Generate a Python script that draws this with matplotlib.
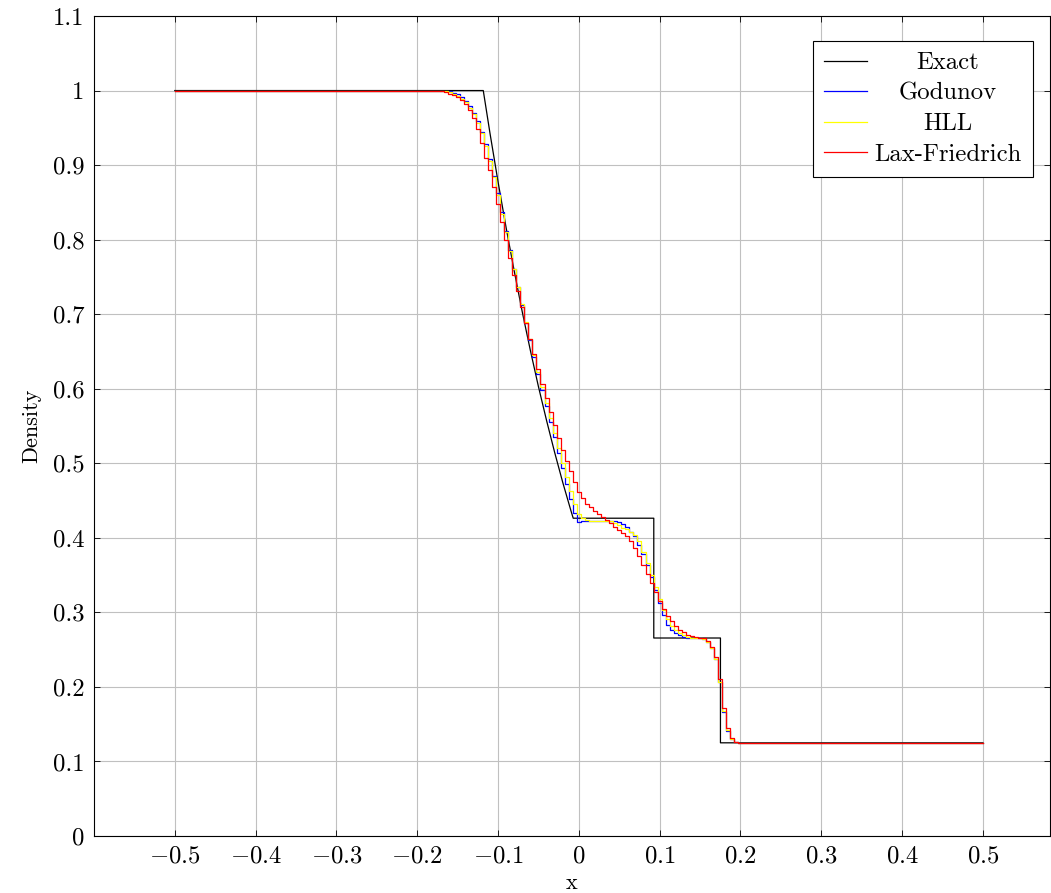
import numpy as np
import matplotlib
matplotlib.use('Agg')
import matplotlib.pyplot as plt

plt.rcParams['font.family'] = 'serif'
plt.rcParams['font.serif'] = ['cmr10', 'DejaVu Serif']
plt.rcParams['mathtext.fontset'] = 'cm'
plt.rcParams['axes.formatter.use_mathtext'] = True

# exact solution
exact_x = [-0.5, -0.1183, -0.11, -0.10, -0.09, -0.08, -0.07, -0.06, -0.05,
           -0.04, -0.03, -0.02, -0.01, -0.007, 0.0927, 0.0927, 0.1752, 0.1752, 0.5]
exact_rho = [1.0, 1.0, 0.9428, 0.8775, 0.8158, 0.7579, 0.7028, 0.6513, 0.6027,
             0.5575, 0.5147, 0.4745, 0.4370, 0.4263, 0.4263, 0.2656, 0.2656, 0.125, 0.125]

# numerical solutions, sampled every 0.005 in x
x_cells = np.round(np.arange(-0.5, 0.5001, 0.005), 3)
n_left = 64    # cells at rho = 1 (x <= -0.185)
n_right = 60   # cells at rho = 0.125 (x >= 0.205)

# values for x = -0.180 ... 0.200
godunov_mid = [1.0, 1.0, 1.0, 0.9995, 0.999, 0.997, 0.995, 0.991, 0.986, 0.979,
               0.970, 0.959, 0.945, 0.928, 0.908, 0.886, 0.862, 0.837, 0.811, 0.786,
               0.761, 0.736, 0.712, 0.688, 0.665, 0.642, 0.620, 0.598, 0.577, 0.556,
               0.535, 0.514, 0.493, 0.472, 0.452, 0.433, 0.421, 0.422, 0.423, 0.423,
               0.423, 0.423, 0.423, 0.423, 0.423, 0.422, 0.421, 0.418, 0.414, 0.408,
               0.402, 0.391, 0.378, 0.363, 0.347, 0.330, 0.313, 0.296, 0.283, 0.276,
               0.272, 0.269, 0.267, 0.266, 0.2655, 0.265, 0.265, 0.264, 0.260, 0.252,
               0.238, 0.206, 0.167, 0.141, 0.130, 0.126, 0.125]
hll_mid = [1.0, 1.0, 0.9995, 0.999, 0.998, 0.996, 0.993, 0.989, 0.984, 0.977,
           0.968, 0.957, 0.943, 0.926, 0.906, 0.884, 0.860, 0.835, 0.810, 0.785,
           0.761, 0.737, 0.713, 0.690, 0.667, 0.645, 0.623, 0.602, 0.581, 0.561,
           0.541, 0.521, 0.501, 0.482, 0.463, 0.446, 0.432, 0.426, 0.424, 0.423,
           0.423, 0.423, 0.423, 0.423, 0.422, 0.420, 0.417, 0.413, 0.412, 0.408,
           0.404, 0.396, 0.381, 0.366, 0.350, 0.334, 0.318, 0.303, 0.291, 0.282,
           0.276, 0.272, 0.269, 0.267, 0.266, 0.2655, 0.265, 0.264, 0.260, 0.252,
           0.238, 0.207, 0.168, 0.142, 0.130, 0.126, 0.125]
lf_mid = [1.0, 0.9995, 0.999, 0.998, 0.996, 0.994, 0.991, 0.987, 0.982, 0.974,
          0.963, 0.948, 0.930, 0.909, 0.893, 0.871, 0.848, 0.823, 0.799, 0.776,
          0.753, 0.731, 0.709, 0.688, 0.667, 0.647, 0.627, 0.607, 0.588, 0.569,
          0.551, 0.534, 0.518, 0.503, 0.489, 0.475, 0.462, 0.453, 0.446, 0.441,
          0.436, 0.432, 0.428, 0.424, 0.420, 0.415, 0.410, 0.406, 0.402, 0.396,
          0.386, 0.375, 0.363, 0.351, 0.339, 0.327, 0.315, 0.304, 0.295, 0.288,
          0.282, 0.277, 0.273, 0.270, 0.268, 0.267, 0.266, 0.265, 0.261, 0.253,
          0.240, 0.210, 0.172, 0.145, 0.131, 0.126, 0.125]

godunov = [1.0] * n_left + godunov_mid + [0.125] * n_right
hll = [1.0] * n_left + hll_mid + [0.125] * n_right
lax_friedrich = [1.0] * n_left + lf_mid + [0.125] * n_right

x_ticks = [-0.5, -0.4, -0.3, -0.2, -0.1, 0, 0.1, 0.2, 0.3, 0.4, 0.5]
y_ticks = [0, 0.1, 0.2, 0.3, 0.4, 0.5, 0.6, 0.7, 0.8, 0.9, 1.0, 1.1]

fig = plt.figure(figsize=(10.51, 8.93), dpi=100)
ax = fig.add_axes([94 / 1051, 57 / 893, 956 / 1051, 820 / 893])

ax.plot(exact_x, exact_rho, color='black', lw=0.9, label='Exact')
ax.step(x_cells, godunov, where='mid', color='blue', lw=0.9, label='Godunov')
ax.step(x_cells, hll, where='mid', color='yellow', lw=0.9, label='HLL')
ax.step(x_cells, lax_friedrich, where='mid', color='red', lw=0.9, label='Lax-Friedrich')

ax.set_xlim(-0.6, 0.583)
ax.set_ylim(0, 1.1)
ax.set_xticks(x_ticks)
ax.set_xticklabels(['$%g$' % v if v >= 0 else '$-%g$' % -v for v in x_ticks])
ax.set_yticks(y_ticks)
ax.set_yticklabels(['%g' % v for v in y_ticks])
ax.tick_params(direction='in', top=True, right=True, labelsize=17.8, length=4, width=0.6, pad=7)
ax.grid(True, color='#c0c0c0', lw=0.8)
ax.set_axisbelow(True)
for s in ax.spines.values():
    s.set_linewidth(0.8)

ax.set_xlabel('x', fontsize=16, labelpad=4)
ax.set_ylabel('Density', fontsize=16, labelpad=8)

leg = ax.legend(loc='upper right', bbox_to_anchor=(0.982, 0.9695), borderaxespad=0,
                fontsize=17.8, fancybox=False, framealpha=1, edgecolor='black',
                handlelength=1.75, handletextpad=0.3, labelspacing=0.33, borderpad=0.45)
leg.get_frame().set_linewidth(0.8)

# centre the legend labels like pgfplots does
fig.canvas.draw()
texts = leg.get_texts()
widths = [t.get_window_extent().width for t in texts]
wmax = max(widths)
for t, w in zip(texts, widths):
    t.set_x((wmax - w) / 2)

fig.savefig('out.png', dpi=100)
